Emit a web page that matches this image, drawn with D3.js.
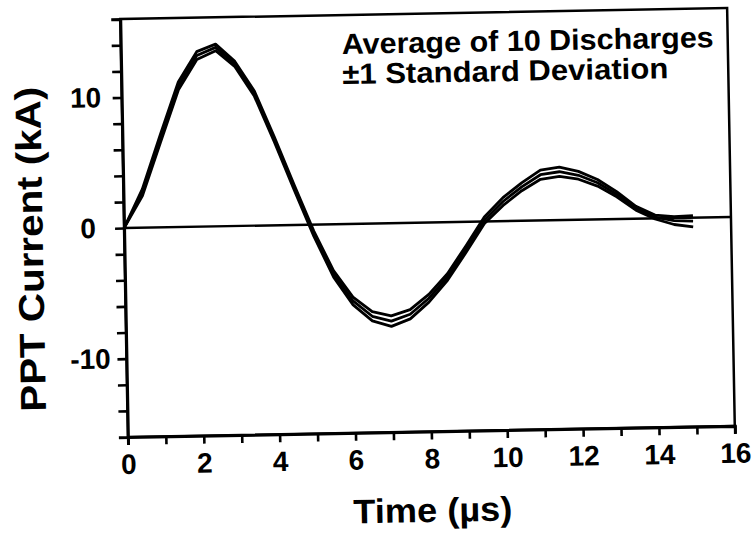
<!DOCTYPE html>
<html>
<head>
<meta charset="utf-8">
<script src="https://cdn.jsdelivr.net/npm/d3@7"></script>
<style>
  body { margin: 0; background: #fff; }
  text { font-family: "Liberation Sans", Arial, sans-serif; font-weight: bold; fill: #000; }
</style>
</head>
<body>
<svg id="chart" width="756" height="536"></svg>
<script>
// time in microseconds
const time = [0, 0.5, 1, 1.5, 2, 2.5, 3, 3.5, 4, 4.5, 5, 5.5, 6, 6.5, 7, 7.5,
  8, 8.5, 9, 9.5, 10, 10.5, 11, 11.5, 12, 12.5, 13, 13.5, 14, 14.5, 15];
// average of 10 discharges (kA)
const meanCurrent = [0, 2.7, 6.8, 10.8, 13.1, 13.7, 12.4, 10.1, 6.6, 2.9, -0.7, -3.8, -5.9, -7.1, -7.5, -7.0,
  -5.8, -4.2, -2.1, 0.1, 1.5, 2.6, 3.5, 3.7, 3.4, 2.8, 1.9, 0.8, 0.1, -0.2, -0.27];
// one standard deviation (kA)
const sdCurrent = [0, 0.25, 0.3, 0.3, 0.3, 0.25, 0.2, 0.2, 0.2, 0.2, 0.2, 0.25, 0.3, 0.35, 0.4, 0.35,
  0.3, 0.25, 0.25, 0.25, 0.3, 0.3, 0.35, 0.35, 0.3, 0.25, 0.2, 0.15, 0.15, 0.3, 0.43];

const xTicks = [0, 1, 2, 3, 4, 5, 6, 7, 8, 9, 10, 11, 12, 13, 14, 15, 16];
const xTickLabels = [0, 2, 4, 6, 8, 10, 12, 14, 16];
const yTicks = [-14, -12, -10, -8, -6, -4, -2, 0, 2, 4, 6, 8, 10, 12, 14];
const yTickLabels = [-10, 0, 10];

const frame = { left: 124, right: 731, top: 13.5, bottom: 431.5 };

const svg = d3.select('#chart');
// the scanned figure is slightly tilted
const g = svg.append('g').attr('transform', 'rotate(-1.05, 427.5, 222.5)');

const x = d3.scaleLinear().domain([0, 16]).range([frame.left, frame.right]);
const y = d3.scaleLinear().domain([-16, 16]).range([frame.bottom, frame.top]);

// frame
g.append('rect')
  .attr('x', frame.left).attr('y', frame.top)
  .attr('width', frame.right - frame.left).attr('height', frame.bottom - frame.top)
  .attr('fill', 'none').attr('stroke', '#000').attr('stroke-width', 2.5);

// axes
const xAxis = g.append('g')
  .attr('transform', `translate(0,${frame.bottom})`)
  .call(d3.axisBottom(x).tickValues(xTicks).tickSize(8).tickPadding(9)
    .tickFormat(d => xTickLabels.includes(d) ? d : ''));
const yAxis = g.append('g')
  .attr('transform', `translate(${frame.left},0)`)
  .call(d3.axisLeft(y).tickValues(yTicks).tickSize(9).tickPadding(10)
    .tickFormat(d => yTickLabels.includes(d) ? d : ''));

[xAxis, yAxis].forEach(a => {
  a.attr('font-family', null).attr('font-size', null);
  a.select('.domain').attr('stroke', '#000').attr('stroke-width', 3);
  a.selectAll('.tick line').attr('stroke', '#000').attr('stroke-width', 2.6);
  a.selectAll('.tick text').style('font-size', '28px');
});
yAxis.selectAll('.tick text').attr('text-anchor', 'middle').attr('x', -36);

// zero line
g.append('line')
  .attr('x1', x(0)).attr('x2', x(16))
  .attr('y1', y(0)).attr('y2', y(0))
  .attr('stroke', '#000').attr('stroke-width', 2.4);

// mean and +/- 1 sd curves
const line = d3.line().x(d => x(d.t)).y(d => y(d.v));
const series = [
  time.map((t, i) => ({ t, v: meanCurrent[i] + sdCurrent[i] })),
  time.map((t, i) => ({ t, v: meanCurrent[i] })),
  time.map((t, i) => ({ t, v: meanCurrent[i] - sdCurrent[i] }))
];
g.selectAll('.curve').data(series).enter().append('path')
  .attr('class', 'curve')
  .attr('d', line)
  .attr('fill', 'none')
  .attr('stroke', '#000')
  .attr('stroke-width', 2.8)
  .attr('stroke-linejoin', 'round');

// legend text
g.append('text').attr('x', 345).attr('y', 52.5)
  .attr('textLength', 372).attr('lengthAdjust', 'spacingAndGlyphs')
  .style('font-size', '29px').text('Average of 10 Discharges');
g.append('text').attr('x', 345).attr('y', 82.5)
  .attr('textLength', 326).attr('lengthAdjust', 'spacingAndGlyphs')
  .style('font-size', '29px').text('\u00B11 Standard Deviation');

// axis titles
g.append('text')
  .attr('x', (frame.left + frame.right) / 2).attr('y', 522)
  .attr('text-anchor', 'middle')
  .attr('textLength', 159).attr('lengthAdjust', 'spacingAndGlyphs')
  .style('font-size', '34px').text('Time (\u00B5s)');
g.append('text')
  .attr('transform', 'translate(42.5,242) rotate(-90)')
  .attr('text-anchor', 'middle')
  .attr('textLength', 325).attr('lengthAdjust', 'spacingAndGlyphs')
  .style('font-size', '36px').text('PPT Current (kA)');
</script>
</body>
</html>
